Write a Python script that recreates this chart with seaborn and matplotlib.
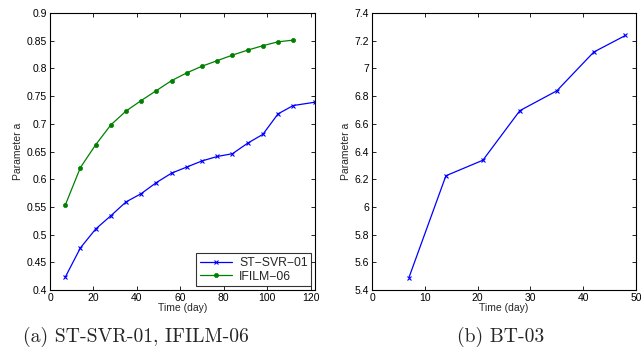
import matplotlib
matplotlib.use("Agg")
import matplotlib.pyplot as plt
import matplotlib.ticker as mticker
import seaborn as sns
import pandas as pd
import numpy as np

# left panel data
days_a = [7, 14, 21, 28, 35, 42, 49, 56, 63, 70, 77, 84, 91, 98, 105, 112, 122]
st_svr_01 = [0.423, 0.476, 0.510, 0.534, 0.559, 0.574, 0.594, 0.611, 0.622, 0.633,
             0.641, 0.646, 0.665, 0.681, 0.718, 0.733, 0.739]
days_g = [7, 14, 21, 28, 35, 42, 49, 56, 63, 70, 77, 84, 91, 98, 105, 112]
ifilm_06 = [0.553, 0.621, 0.662, 0.698, 0.723, 0.742, 0.760, 0.778, 0.792, 0.804,
            0.814, 0.824, 0.833, 0.841, 0.848, 0.851]

# right panel data
days_b = [7, 14, 21, 28, 35, 42, 48]
bt_03 = [5.49, 6.225, 6.337, 6.695, 6.838, 7.118, 7.238]

sns.set_style("ticks")
plt.rcParams["font.family"] = ["Liberation Sans", "DejaVu Sans"]
plt.rcParams["xtick.direction"] = "in"
plt.rcParams["ytick.direction"] = "in"
plt.rcParams["xtick.top"] = True
plt.rcParams["ytick.right"] = True
plt.rcParams["axes.edgecolor"] = "black"
plt.rcParams["axes.linewidth"] = 0.8

fs = 7.5
blue = "#0000ff"
green = "#008000"

fig = plt.figure(figsize=(6.41, 3.56), dpi=100)
ax1 = fig.add_axes([50 / 641, 66 / 356, 265 / 641, 277 / 356])
ax2 = fig.add_axes([372 / 641, 66 / 356, 264 / 641, 277 / 356])

df_a = pd.DataFrame({"day": days_a, "val": st_svr_01})
df_g = pd.DataFrame({"day": days_g, "val": ifilm_06})
sns.lineplot(data=df_a, x="day", y="val", ax=ax1, color=blue, lw=0.9,
             marker="x", markersize=3, markeredgewidth=0.8, mec=blue,
             label="ST\u2212SVR\u221201")
sns.lineplot(data=df_g, x="day", y="val", ax=ax1, color=green, lw=0.9,
             marker="o", markersize=3, markeredgewidth=0.5, mec=green, mfc=green,
             label="IFILM\u221206")
ax1.set_xlim(0, 122)
ax1.set_ylim(0.4, 0.9)
ax1.set_xticks(np.arange(0, 121, 20))
ax1.set_yticks(np.arange(0.4, 0.901, 0.05))

df_b = pd.DataFrame({"day": days_b, "val": bt_03})
sns.lineplot(data=df_b, x="day", y="val", ax=ax2, color=blue, lw=0.9,
             marker="x", markersize=3, markeredgewidth=0.8, mec=blue)
ax2.set_xlim(0, 50)
ax2.set_ylim(5.4, 7.4)
ax2.set_xticks(np.arange(0, 51, 10))
ax2.set_yticks(np.arange(5.4, 7.401, 0.2))

for ax in (ax1, ax2):
    ax.yaxis.set_major_formatter(mticker.FuncFormatter(lambda v, p: "%g" % round(v, 3)))
    ax.tick_params(labelsize=fs, length=3, width=0.6, pad=2, colors="black")
    ax.set_xlabel("Time (day)", fontsize=fs, labelpad=0)
    ax.set_ylabel("Parameter a", fontsize=fs, labelpad=3)
    for s in ax.spines.values():
        s.set_visible(True)
        s.set_linewidth(0.8)

leg = ax1.legend(loc="lower right", fontsize=8.8, frameon=True, fancybox=False,
                 borderaxespad=0.3, handlelength=2.6, borderpad=0.3,
                 labelspacing=0.15, handletextpad=0.6)
leg.get_frame().set_edgecolor("black")
leg.get_frame().set_linewidth(0.8)

fig.text(136 / 641, 1 - 337 / 356, "(a) ST-SVR-01, IFILM-06", family="cmr10",
         fontsize=14.2, ha="center", va="center")
fig.text(501 / 641, 1 - 337 / 356, "(b) BT-03", family="cmr10",
         fontsize=14.2, ha="center", va="center")

fig.savefig("out.png", dpi=100)
